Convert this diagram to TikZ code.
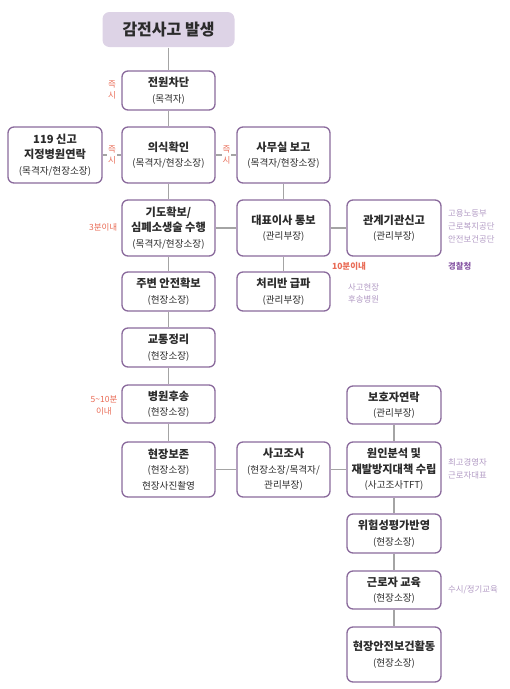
\documentclass[tikz,border=0pt]{standalone}
\usepackage{fontspec}
\setmainfont{Noto Sans CJK KR}
\definecolor{boxc}{HTML}{8A6A9C}
\definecolor{titlefill}{HTML}{DDD3E6}
\definecolor{linec}{HTML}{A4A4A4}
\definecolor{redc}{HTML}{E96B55}
\definecolor{lpur}{HTML}{B29BC4}
\definecolor{dpur}{HTML}{8A5BA6}
\definecolor{txt}{HTML}{2B2B2B}
\newcommand{\hd}[1]{{\bfseries\fontsize{11.2}{15.5}\selectfont #1}}
\tikzset{
  box/.style={draw=boxc, line width=1.3pt, rounded corners=6pt, fill=white,
    minimum width=93pt, align=center, inner sep=0pt, text=txt,
    font=\fontsize{9.6}{15.5}\selectfont},
  conn/.style={draw=linec, line width=1.1pt},
  redlab/.style={text=redc, inner sep=1pt, font=\fontsize{8.5}{11}\selectfont, align=center},
  purlab/.style={text=lpur, inner sep=0pt, anchor=west, font=\fontsize{8.4}{12.7}\selectfont, align=left},
}
\begin{document}
\begin{tikzpicture}[x=1pt,y=-1pt]
\useasboundingbox (0,0) rectangle (510,689);
% nodes
\node[box, draw=none, fill=titlefill, minimum width=132pt, minimum height=35pt, rounded corners=7pt,
  font=\bfseries\fontsize{16}{18}\selectfont] (t) at (168.5,29.5) {감전사고 발생};
\node[box, minimum height=39pt] (a) at (168.5,90.5) {\hd{전원차단}\\(목격자)};
\node[box, minimum height=56pt] (b) at (168.5,155) {\hd{의식확인}\\(목격자/현장소장)};
\node[box, minimum height=56pt, minimum width=94pt] (l) at (55,155) {\hd{119 신고}\\\hd{지정병원연락}\\(목격자/현장소장)};
\node[box, minimum height=56pt] (s) at (283.5,155) {\hd{사무실 보고}\\(목격자/현장소장)};
\node[box, minimum height=56pt] (c) at (168.5,228) {\hd{기도확보/}\\\hd{심폐소생술 수행}\\(목격자/현장소장)};
\node[box, minimum height=56pt] (d) at (283.5,228) {\hd{대표이사 통보}\\(관리부장)};
\node[box, minimum height=56pt, minimum width=94pt] (g) at (394,228) {\hd{관계기관신고}\\(관리부장)};
\node[box, minimum height=39pt] (e) at (168.5,291.5) {\hd{주변 안전확보}\\(현장소장)};
\node[box, minimum height=39pt] (p) at (283.5,291.5) {\hd{처리반 급파}\\(관리부장)};
\node[box, minimum height=39pt] (f) at (168.5,347.5) {\hd{교통정리}\\(현장소장)};
\node[box, minimum height=38pt] (h) at (168.5,404) {\hd{병원후송}\\(현장소장)};
\node[box, minimum height=38pt, minimum width=94pt] (q) at (394,405) {\hd{보호자연락}\\(관리부장)};
\node[box, minimum height=55pt] (i) at (168.5,469.5) {\hd{현장보존}\\(현장소장)\\현장사진촬영};
\node[box, minimum height=55pt] (j) at (283.5,469.5) {\hd{사고조사}\\(현장소장/목격자/\\관리부장)};
\node[box, minimum height=55pt, minimum width=94pt] (k) at (394,469.5) {\hd{원인분석 및}\\\hd{재발방지대책 수립}\\(사고조사TFT)};
\node[box, minimum height=39pt, minimum width=94pt] (m) at (394,533.5) {\hd{위험성평가반영}\\(현장소장)};
\node[box, minimum height=38pt, minimum width=94pt] (n) at (394,590) {\hd{근로자 교육}\\(현장소장)};
\node[box, minimum height=55pt, minimum width=94pt] (o) at (394,654.5) {\hd{현장안전보건활동}\\(현장소장)};
% connectors
\draw[conn] (t) -- (a);
\draw[conn] (a) -- (b);
\draw[conn] (b) -- (c);
\draw[conn] (c) -- (e);
\draw[conn] (e) -- (f);
\draw[conn] (f) -- (h);
\draw[conn] (h) -- (i);
\draw[conn] (l) -- (b);
\draw[conn] (b) -- (s);
\draw[conn] (s) -- (d);
\draw[conn] (d) -- (p);
\draw[conn] (c) -- (d);
\draw[conn] (d) -- (g);
\draw[conn] (i) -- (j);
\draw[conn] (j) -- (k);
\draw[conn] (q) -- (k);
\draw[conn] (k) -- (m);
\draw[conn] (m) -- (n);
\draw[conn] (n) -- (o);
% red labels
\node[redlab] (r1) at (112,90) {즉\\시};
\node[redlab, fill=white] (r2) at (112,155) {즉\\시};
\node[redlab, fill=white] (r3) at (226.5,155) {즉\\시};
\node[redlab, anchor=east] (r4) at (118.5,227) {3분이내};
\node[redlab, font=\bfseries\fontsize{8.5}{11}\selectfont] (r5) at (349,266) {10분이내};
\node[redlab, font=\fontsize{8.5}{12.5}\selectfont] (r6) at (104,405.5) {5\textasciitilde10분\\이내};
% purple labels
\node[purlab] (p1) at (448,226.5) {고용노동부\\근로복지공단\\안전보건공단};
\node[purlab, text=dpur, font=\bfseries\fontsize{8.4}{11}\selectfont] (p2) at (448,266) {경찰청};
\node[purlab] (p3) at (348,293.5) {사고현장\\후송병원};
\node[purlab] (p4) at (448,469) {최고경영자\\근로자대표};
\node[purlab] (p5) at (448,590) {수시/정기교육};
\end{tikzpicture}
\end{document}
